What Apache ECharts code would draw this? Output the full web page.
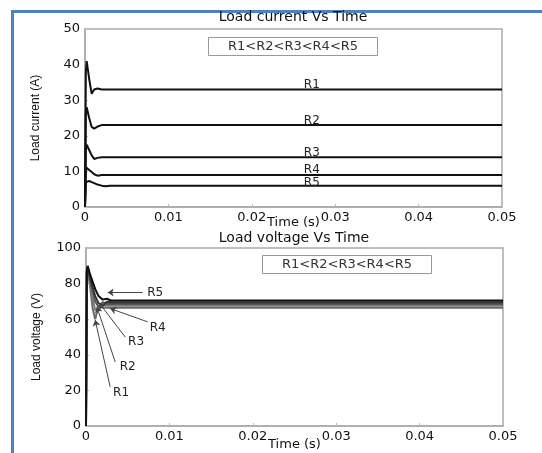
<!DOCTYPE html>
<html>
<head>
<meta charset="utf-8">
<script src="https://cdn.jsdelivr.net/npm/echarts@6/dist/echarts.min.js"></script>
<style>
html,body{margin:0;padding:0;background:#fff;}
#frame{position:absolute;left:11px;top:10px;width:531px;height:443px;border-top:3px solid #4f81bd;border-left:3px solid #4f81bd;box-sizing:border-box;}
#main{position:absolute;left:0;top:0;width:542px;height:453px;}
</style>
</head>
<body>
<div id="frame"></div>
<div id="main"></div>
<script>
// ---- data ----
const timeS = [0, 0.0001, 0.0002, 0.0005, 0.0008, 0.0011, 0.0015, 0.002, 0.0025, 0.003, 0.05];

const currentR1 = [0, 38, 41, 36, 31.8, 33, 33.3, 33, 33, 33, 33];
const currentR2 = [0, 26, 28, 25, 22.5, 22, 22.6, 23, 23, 23, 23];
const currentR3 = [0, 16, 17.5, 16, 14.5, 13.5, 13.8, 14, 14, 14, 14];
const currentR4 = [0, 10, 11, 10.4, 9.8, 9.2, 8.8, 9, 9, 9, 9];
const currentR5 = [0, 7, 7.5, 7.3, 7, 6.7, 6.3, 6, 5.8, 6, 6];

const voltageR1 = [0, 85, 88, 78, 66, 60, 67, 66.5, 66.5, 66.5, 66.5];
const voltageR2 = [0, 86, 88.5, 80, 72, 65, 66, 68, 67.5, 67.5, 67.5];
const voltageR3 = [0, 86, 89, 82, 76, 70, 67, 69.5, 68.5, 68.5, 68.5];
const voltageR4 = [0, 87, 89.5, 83, 78, 73, 69, 67.5, 69.8, 69.5, 69.5];
const voltageR5 = [0, 87, 90, 85, 81, 77, 73, 71, 71.5, 70.5, 70.5];

const seriesNames = ['R1', 'R2', 'R3', 'R4', 'R5'];
const legendText = 'R1<R2<R3<R4<R5';

// current curve labels: [time, value]
const currentLabelPos = [[0.0272, 34.4], [0.0272, 24.3], [0.0272, 15.2], [0.0272, 10.3], [0.0272, 6.9]];
// voltage annotations: label position, arrow start, arrow tip
const voltLabelPos = [[0.0042, 18.5], [0.005, 33], [0.006, 47], [0.0086, 55], [0.0083, 75]];
const voltArrowFrom = [[0.0029, 22], [0.0035, 36], [0.0047, 50], [0.0074, 58.5], [0.0068, 75]];
const voltArrowTo = [[0.0011, 59.5], [0.0013, 67], [0.0016, 69], [0.0029, 66], [0.0026, 75]];

const currentSeries = [currentR1, currentR2, currentR3, currentR4, currentR5];
const voltageSeries = [voltageR1, voltageR2, voltageR3, voltageR4, voltageR5];
const voltColors = ['#6a6a6a', '#7c7c7c', '#555555', '#333333', '#111111'];

const FONT = 'DejaVu Sans';
const chart = echarts.init(document.getElementById('main'), null, {renderer: 'canvas'});

function xAxisDef(gi, gap) {
  return {
    type: 'value', gridIndex: gi, min: 0, max: 0.05, interval: 0.01,
    name: 'Time (s)', nameLocation: 'middle', nameGap: gap, nameMoveOverlap: false,
    nameTextStyle: {fontFamily: FONT, fontSize: 13, color: '#111'},
    axisLine: {show: true, onZero: false, lineStyle: {color: '#aaa', width: 1.5}},
    axisTick: {show: true, inside: true, length: 3, lineStyle: {color: '#bbb'}},
    axisLabel: {fontFamily: FONT, fontSize: 13, color: '#111', margin: 4,
      formatter: v => (v === 0 ? '0' : v.toFixed(2))},
    splitLine: {show: false}
  };
}
function yAxisDef(gi, max, interval, name) {
  return {
    type: 'value', gridIndex: gi, min: 0, max: max, interval: interval,
    name: name, nameLocation: 'middle', nameGap: 43, nameMoveOverlap: false,
    nameTextStyle: {fontFamily: 'Liberation Sans', fontSize: 12, color: '#111'},
    axisLine: {show: true, lineStyle: {color: '#aaa', width: 1.5}},
    axisTick: {show: true, inside: true, length: 3, lineStyle: {color: '#bbb'}},
    axisLabel: {fontFamily: FONT, fontSize: 13, color: '#111', margin: 5},
    splitLine: {show: false}
  };
}

const series = [];
currentSeries.forEach((arr, i) => {
  series.push({
    type: 'line', name: seriesNames[i], xAxisIndex: 0, yAxisIndex: 0,
    data: timeS.map((t, k) => [t, arr[k]]),
    showSymbol: false, symbol: 'none', animation: false,
    lineStyle: {color: '#111', width: 2},
    markPoint: {
      symbol: 'circle', symbolSize: 0, animation: false, silent: true,
      label: {show: true, formatter: seriesNames[i], fontFamily: FONT, fontSize: 12, color: '#222'},
      data: [{coord: currentLabelPos[i]}]
    }
  });
});
voltageSeries.forEach((arr, i) => {
  series.push({
    type: 'line', name: seriesNames[i] + ' V', xAxisIndex: 1, yAxisIndex: 1,
    data: timeS.map((t, k) => [t, arr[k]]),
    showSymbol: false, symbol: 'none', animation: false,
    lineStyle: {color: voltColors[i], width: 2},
    markPoint: {
      symbol: 'circle', symbolSize: 0, animation: false, silent: true,
      label: {show: true, formatter: seriesNames[i], fontFamily: FONT, fontSize: 12, color: '#222'},
      data: [{coord: voltLabelPos[i]}]
    },
    markLine: {
      symbol: ['none', 'arrow'], symbolSize: 6, animation: false, silent: true,
      label: {show: false},
      lineStyle: {color: '#444', width: 1, type: 'solid'},
      data: [[{coord: voltArrowFrom[i]}, {coord: voltArrowTo[i]}]]
    }
  });
});

chart.setOption({
  backgroundColor: 'transparent',
  animation: false,
  title: [
    {text: 'Load current Vs Time', left: 293, top: 10, textAlign: 'center', padding: 0,
      textStyle: {fontFamily: FONT, fontSize: 14, fontWeight: 'normal', color: '#111'}},
    {text: 'Load voltage Vs Time', left: 294, top: 231, textAlign: 'center', padding: 0,
      textStyle: {fontFamily: FONT, fontSize: 14, fontWeight: 'normal', color: '#111'}},
    {text: legendText, left: 208, top: 37, padding: [3, 20], borderWidth: 1, borderColor: '#999',
      textStyle: {fontFamily: FONT, fontSize: 13, fontWeight: 'normal', color: '#333'}},
    {text: legendText, left: 262, top: 255, padding: [3, 20], borderWidth: 1, borderColor: '#999',
      textStyle: {fontFamily: FONT, fontSize: 13, fontWeight: 'normal', color: '#333'}}
  ],
  grid: [
    {left: 85, top: 29, width: 417, height: 178, show: true, borderColor: '#aaa', borderWidth: 1.5, backgroundColor: 'transparent'},
    {left: 86, top: 248, width: 417, height: 178, show: true, borderColor: '#aaa', borderWidth: 1.5, backgroundColor: 'transparent'}
  ],
  xAxis: [xAxisDef(0, 9), xAxisDef(1, 12)],
  yAxis: [yAxisDef(0, 50, 10, 'Load current (A)'), yAxisDef(1, 100, 20, 'Load voltage (V)')],
  series: series
});
</script>
</body>
</html>
